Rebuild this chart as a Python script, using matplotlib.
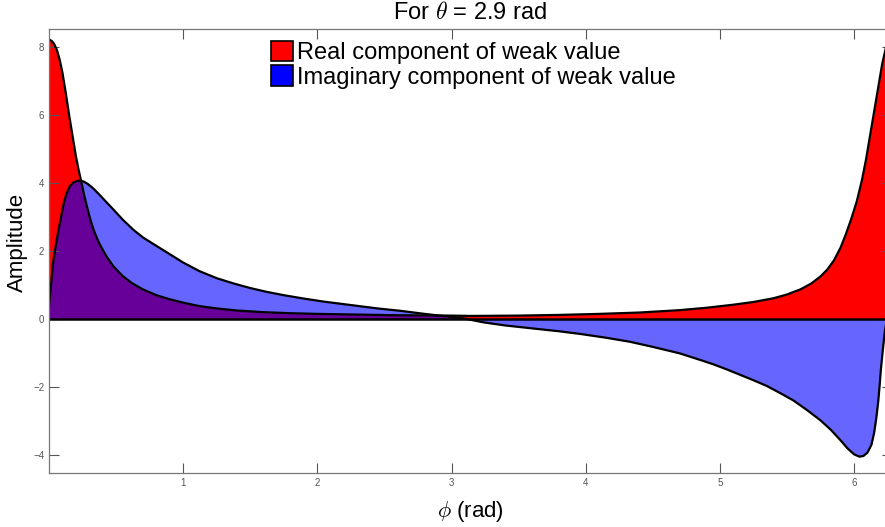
import numpy as np
import matplotlib.pyplot as plt
from matplotlib.patches import Patch

plt.rcParams['font.family'] = ['Liberation Sans', 'DejaVu Sans']
plt.rcParams['mathtext.fontset'] = 'cm'

# weak value components
phi_re = [0.00, 0.02, 0.04, 0.06, 0.08, 0.10, 0.125, 0.15, 0.175, 0.20, 0.22, 0.24,
          0.26, 0.28, 0.305, 0.33, 0.355, 0.38, 0.43, 0.48, 0.55, 0.62, 0.70, 0.80,
          0.90, 1.00, 1.12, 1.25, 1.40, 1.60, 1.80, 2.00, 2.30, 2.60, 3.00, 3.14,
          3.50, 3.80, 4.10, 4.40, 4.70, 4.90, 5.10, 5.25, 5.40, 5.50, 5.60, 5.68,
          5.75, 5.80, 5.85, 5.90, 5.94, 5.98, 6.02, 6.06, 6.09, 6.12, 6.15, 6.18,
          6.21, 6.24, 6.26, 6.283]
real_part = [8.22, 8.18, 8.08, 7.90, 7.62, 7.25, 6.65, 6.00, 5.40, 4.80, 4.40, 4.05,
             3.68, 3.35, 2.97, 2.65, 2.40, 2.18, 1.83, 1.55, 1.26, 1.05, 0.87, 0.70,
             0.58, 0.48, 0.38, 0.31, 0.25, 0.20, 0.17, 0.15, 0.13, 0.11, 0.10, 0.09,
             0.10, 0.12, 0.15, 0.19, 0.26, 0.33, 0.42, 0.50, 0.61, 0.72, 0.87, 1.04,
             1.25, 1.45, 1.72, 2.10, 2.50, 2.95, 3.45, 4.10, 4.70, 5.40, 6.10, 6.80,
             7.50, 8.02, 8.15, 8.22]

phi_im = [0.00, 0.015, 0.03, 0.05, 0.07, 0.09, 0.11, 0.13, 0.155, 0.18, 0.21, 0.236,
          0.26, 0.29, 0.33, 0.37, 0.42, 0.48, 0.55, 0.63, 0.70, 0.78, 0.87, 1.00,
          1.12, 1.25, 1.38, 1.50, 1.62, 1.75, 1.90, 2.05, 2.25, 2.45, 2.62, 2.80,
          3.00, 3.10, 3.24, 3.40, 3.61, 3.80, 3.96, 4.15, 4.33, 4.50, 4.70, 4.85,
          4.95, 5.05, 5.15, 5.25, 5.35, 5.45, 5.55, 5.65, 5.75, 5.83, 5.90, 5.95,
          6.00, 6.04, 6.07, 6.10, 6.13, 6.15, 6.165, 6.18, 6.19, 6.20, 6.215, 6.23,
          6.25, 6.283]
imag_part = [0.36, 1.00, 1.64, 2.15, 2.60, 3.00, 3.40, 3.68, 3.90, 4.01, 4.06, 4.07,
             4.04, 3.97, 3.84, 3.68, 3.47, 3.22, 2.92, 2.62, 2.40, 2.20, 1.98, 1.66,
             1.41, 1.20, 1.04, 0.91, 0.80, 0.70, 0.60, 0.51, 0.41, 0.31, 0.24, 0.15,
             0.06, 0.01, -0.10, -0.19, -0.28, -0.36, -0.44, -0.55, -0.67, -0.82, -1.01, -1.20,
             -1.33, -1.48, -1.64, -1.80, -1.97, -2.18, -2.40, -2.68, -2.98, -3.27, -3.57, -3.80,
             -3.98, -4.05, -4.03, -3.93, -3.70, -3.35, -2.95, -2.45, -2.00, -1.50, -0.90, -0.35,
             0.05, 0.36]

fig = plt.figure(figsize=(8.85, 5.27), dpi=100)
ax = fig.add_axes([49/885, 54/527, 843/885, 444/527])

ax.fill_between(phi_re, real_part, 0, color='#ff0000', linewidth=0)
ax.plot(phi_re, real_part, color='black', lw=1.6)
ax.fill_between(phi_im, imag_part, 0, color='blue', alpha=0.6, linewidth=0)
ax.plot(phi_im, imag_part, color='black', lw=1.6)
ax.axhline(0, color='black', lw=1.8)

ax.set_xlim(0, 2*np.pi)
ax.set_ylim(-4.53, 8.53)
ax.set_xticks([1, 2, 3, 4, 5, 6])
ax.set_yticks([-4, -2, 0, 2, 4, 6, 8])
ax.tick_params(direction='in', length=7, width=0.8, colors='#555555', labelsize=7,
               top=True, right=True)
for s in ax.spines.values():
    s.set_color('#777777')
    s.set_linewidth(0.9)

ax.set_title(r'For $\theta$ = 2.9 rad', fontsize=17, pad=7)
ax.set_xlabel(r'$\phi$ (rad)', fontsize=16, labelpad=8)
ax.set_ylabel('Amplitude', fontsize=16)
ax.yaxis.set_label_coords(-0.025, 0.52)

handles = [Patch(facecolor='#ff0000', edgecolor='black', lw=1.2),
           Patch(facecolor='blue', edgecolor='black', lw=1.2)]
ax.legend(handles, ['Real component of weak value', 'Imaginary component of weak value'],
          loc='upper left', bbox_to_anchor=(0.249, 1.0), frameon=False, fontsize=17,
          handlelength=0.95, handleheight=0.95, handletextpad=0.15, labelspacing=0.05,
          borderaxespad=0.1)

fig.savefig('out.png', dpi=100)
